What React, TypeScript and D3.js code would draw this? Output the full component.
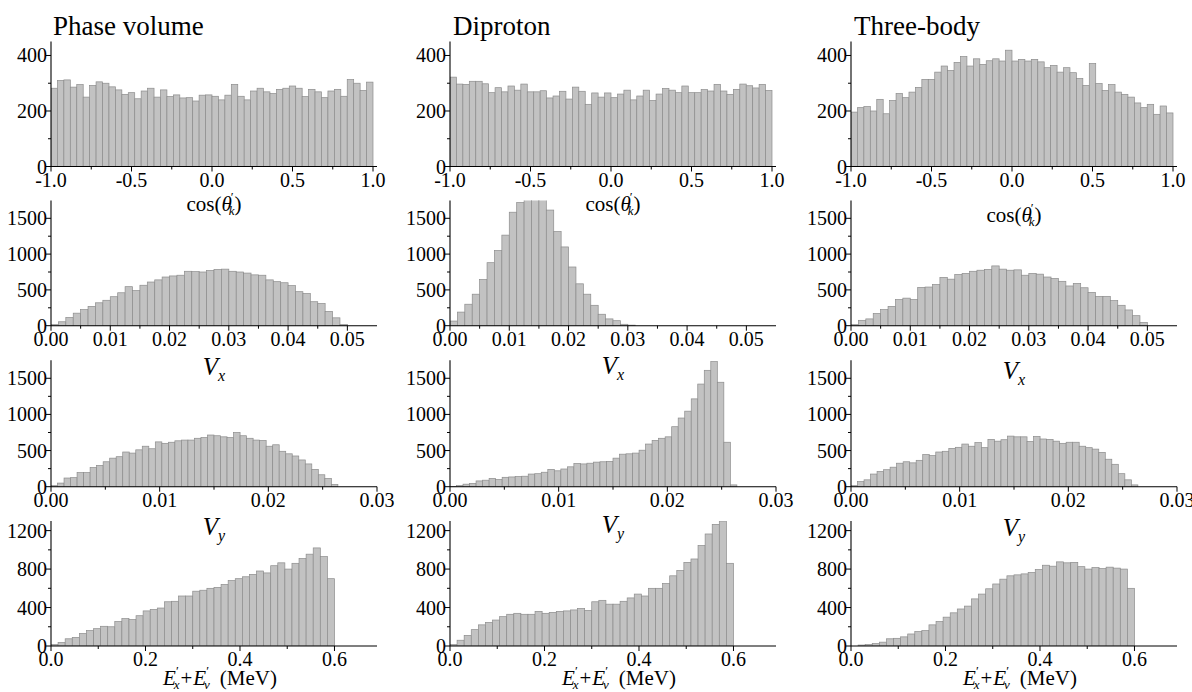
import React from 'react';
import * as d3 from 'd3';

// ---------- DATA ----------
const columnTitles = ['Phase volume', 'Diproton', 'Three-body'];

// cos(theta'_k): 50 bins, -1..1, width 0.04
const phaseCos = [282,310,312,286,295,250,292,305,300,287,276,260,266,244,272,282,250,276,252,258,247,248,236,257,258,253,240,257,296,253,240,272,282,269,263,278,282,290,282,252,278,269,248,272,278,253,313,300,274,304];
const diprotonCos = [322,297,296,307,307,298,266,284,269,290,275,297,269,269,273,247,254,271,243,286,271,224,265,250,265,248,261,275,240,254,275,238,261,281,275,266,290,266,266,277,272,296,272,260,278,297,291,283,296,274];
const threeBodyCos = [196,212,216,200,242,190,238,263,248,268,285,314,314,340,362,346,375,396,362,388,368,381,388,380,419,380,386,380,386,377,356,364,340,356,338,317,292,371,299,274,295,268,260,250,229,212,224,188,218,193];

// V_x: bins of width 0.00125 from 0
const phaseVx = [15,55,115,175,225,270,320,355,405,460,545,490,565,610,640,680,695,705,760,755,750,770,785,790,760,750,735,710,705,640,615,600,560,475,450,335,310,200,110,15];
const diprotonVx = [65,190,300,440,645,880,1050,1265,1585,1720,1800,1820,1790,1615,1315,1100,820,585,440,285,160,95,70,20,8];
const threeBodyVx = [15,75,95,170,225,270,365,385,365,535,540,575,675,650,715,730,760,775,785,835,790,775,780,705,730,720,680,660,620,555,590,530,465,410,410,350,285,220,140,45];

// V_y: bins of width 0.0006 from 0
const phaseVy = [15,50,120,125,195,195,265,295,345,395,415,480,465,510,560,525,620,600,615,635,645,645,670,680,715,705,690,680,750,705,670,645,640,560,580,490,455,425,370,315,240,165,115,30];
const diprotonVy = [5,15,35,45,80,90,115,100,130,135,140,145,175,180,200,240,220,245,275,320,315,325,340,345,350,395,450,455,465,505,590,640,670,690,830,950,1045,1215,1420,1610,1730,1445,615,25];
const threeBodyVy = [15,70,95,175,210,235,270,325,345,330,365,445,430,480,490,530,545,590,560,610,540,655,630,650,700,690,690,625,695,660,655,630,600,615,615,560,540,520,475,380,310,180,95,25];

// E'_x + E'_v: bins of width 0.015 from 0
const phaseE = [15,35,75,90,130,160,180,205,200,255,285,275,315,365,380,395,460,465,520,520,570,580,600,610,640,680,700,720,745,780,760,835,865,800,860,910,955,1020,930,700];
const diprotonE = [15,60,110,170,220,245,270,305,330,340,330,330,360,340,350,360,365,375,390,370,460,475,435,435,465,500,540,520,600,600,650,730,785,870,905,1045,1165,1265,1300,860];
const threeBodyE = [0,10,15,25,40,75,80,95,125,150,160,220,255,300,345,385,415,490,540,595,645,695,730,740,750,765,795,840,830,875,865,870,825,800,815,805,820,810,800,600];

const cosTicks = [-1, -0.5, 0, 0.5, 1];
const cosTickLabels = ['-1.0', '-0.5', '0.0', '0.5', '1.0'];
const cosMinor = [-0.75, -0.25, 0.25, 0.75];
const vxTicks = [0, 0.01, 0.02, 0.03, 0.04, 0.05];
const vxTickLabels = ['0.00', '0.01', '0.02', '0.03', '0.04', '0.05'];
const vxMinor = [0.005, 0.015, 0.025, 0.035, 0.045];
const vyTicks = [0, 0.01, 0.02, 0.03];
const vyTickLabels = ['0.00', '0.01', '0.02', '0.03'];
const vyMinor = [0.005, 0.015, 0.025];
const eTicks = [0, 0.2, 0.4, 0.6];
const eTickLabels = ['0.0', '0.2', '0.4', '0.6'];
const eMinor = [0.1, 0.3, 0.5];

const countTicksCos = [0, 200, 400];
const countMinorCos = [100, 300];
const countTicksV = [0, 500, 1000, 1500];
const countMinorV = [250, 750, 1250];
const countTicksE = [0, 400, 800, 1200];
const countMinorE = [200, 600, 1000];

// ---------- LAYOUT ----------
const FONT = "'Liberation Serif', 'Times New Roman', Times, serif";
const colX0 = [51, 450, 851];
const AXIS_LEN = 326;

type RowSpec = {
  series: number[][];
  binStart: number;
  binWidth: number;
  xDomain: [number, number];
  xRangeLen: number;
  xTicks: number[];
  xTickLabels: string[];
  xMinor: number[];
  yDomain: [number, number];
  yRange: [number, number];
  yTicks: number[];
  yMinor: number[];
  label: 'cos' | 'vx' | 'vy' | 'e';
  labelY: number[];
};

const rows: RowSpec[] = [
  {
    series: [phaseCos, diprotonCos, threeBodyCos], binStart: -1, binWidth: 0.04,
    xDomain: [-1, 1], xRangeLen: 322, xTicks: cosTicks, xTickLabels: cosTickLabels, xMinor: cosMinor,
    yDomain: [0, 450], yRange: [166.5, 41.6], yTicks: countTicksCos, yMinor: countMinorCos,
    label: 'cos', labelY: [211, 211, 222],
  },
  {
    series: [phaseVx, diprotonVx, threeBodyVx], binStart: 0, binWidth: 0.00125,
    xDomain: [0, 0.055], xRangeLen: AXIS_LEN, xTicks: vxTicks, xTickLabels: vxTickLabels, xMinor: vxMinor,
    yDomain: [0, 1750], yRange: [325.7, 200.4], yTicks: countTicksV, yMinor: countMinorV,
    label: 'vx', labelY: [375, 374, 379],
  },
  {
    series: [phaseVy, diprotonVy, threeBodyVy], binStart: 0, binWidth: 0.0006,
    xDomain: [0, 0.03], xRangeLen: AXIS_LEN, xTicks: vyTicks, xTickLabels: vyTickLabels, xMinor: vyMinor,
    yDomain: [0, 1750], yRange: [486.7, 360.2], yTicks: countTicksV, yMinor: countMinorV,
    label: 'vy', labelY: [535, 533, 536],
  },
  {
    series: [phaseE, diprotonE, threeBodyE], binStart: 0, binWidth: 0.015,
    xDomain: [0, 0.69], xRangeLen: AXIS_LEN, xTicks: eTicks, xTickLabels: eTickLabels, xMinor: eMinor,
    yDomain: [0, 1300], yRange: [646, 521], yTicks: countTicksE, yMinor: countMinorE,
    label: 'e', labelY: [685, 685, 685],
  },
];

function AxisLabel({ kind, x, y }: { kind: string; x: number; y: number }) {
  if (kind === 'cos') {
    return (
      <text x={x} y={y} textAnchor="middle" fontSize={21}>
        cos(<tspan fontStyle="italic">θ</tspan>
        <tspan fontSize={13} dy={-10} dx={-1}>′</tspan>
        <tspan fontSize={13} fontStyle="italic" dx={-5} dy={14}>k</tspan>
        <tspan dy={-4}>)</tspan>
      </text>
    );
  }
  if (kind === 'vx' || kind === 'vy') {
    return (
      <text x={x} y={y} textAnchor="middle" fontSize={25}>
        <tspan fontStyle="italic">V</tspan>
        <tspan fontSize={16} fontStyle="italic" dy={6}>{kind === 'vx' ? 'x' : 'y'}</tspan>
      </text>
    );
  }
  return (
    <text x={x + 6} y={y} textAnchor="middle" fontSize={21}>
      <tspan fontStyle="italic">E</tspan>
      <tspan fontSize={13} dy={-10} dx={0}>′</tspan>
      <tspan fontSize={13} fontStyle="italic" dx={-5} dy={14}>x</tspan>
      <tspan dy={-4} dx={1}>+</tspan>
      <tspan fontStyle="italic" dx={1}>E</tspan>
      <tspan fontSize={13} dy={-10}>′</tspan>
      <tspan fontSize={13} fontStyle="italic" dx={-5} dy={14}>v</tspan>
      <tspan dy={-4} dx={10}>(MeV)</tspan>
    </text>
  );
}

function Panel({ row, col, ri }: { row: RowSpec; col: number; ri: number }) {
  const x0 = colX0[col];
  const x = d3.scaleLinear().domain(row.xDomain).range([x0, x0 + row.xRangeLen]);
  const y = d3.scaleLinear().domain(row.yDomain).range(row.yRange);
  const values = row.series[col];
  const y0 = y(0);
  const yTop = y(row.yDomain[1]);
  const clipId = `clip-${ri}-${col}`;
  const cx = x0 + AXIS_LEN / 2;
  return (
    <g>
      <defs>
        <clipPath id={clipId}>
          <rect x={x0} y={yTop} width={AXIS_LEN} height={y0 - yTop} />
        </clipPath>
      </defs>
      <g clipPath={`url(#${clipId})`}>
        {values.map((v, i) => {
          if (v <= 0) return null;
          const a = row.binStart + i * row.binWidth;
          const b = a + row.binWidth;
          const xa = x(a);
          const xb = x(b);
          const yt = y(v);
          return (
            <rect key={i} x={xa} y={yt} width={xb - xa} height={y0 - yt}
              fill="#c2c2c2" stroke="#8c8c8c" strokeWidth={0.7} />
          );
        })}
      </g>
      <line x1={x0} x2={x0 + AXIS_LEN} y1={y0} y2={y0} stroke="#000" strokeWidth={1.1} />
      <line x1={x0} x2={x0} y1={y0} y2={yTop} stroke="#000" strokeWidth={1.1} />
      {row.yTicks.map((t) => (
        <g key={'yt' + t}>
          <line x1={x0 - 5} x2={x0} y1={y(t)} y2={y(t)} stroke="#000" strokeWidth={1} />
          <text x={x0 - 4} y={y(t) + 7} textAnchor="end" fontSize={20}>{t}</text>
        </g>
      ))}
      {row.yMinor.map((t) => (
        <line key={'ym' + t} x1={x0 - 3} x2={x0} y1={y(t)} y2={y(t)} stroke="#000" strokeWidth={1} />
      ))}
      {row.xTicks.map((t, i) => (
        <g key={'xt' + t}>
          <line x1={x(t)} x2={x(t)} y1={y0} y2={y0 + 5} stroke="#000" strokeWidth={1} />
          <text x={x(t)} y={y0 + 20} textAnchor="middle" fontSize={20}>{row.xTickLabels[i]}</text>
        </g>
      ))}
      {row.xMinor.map((t) => (
        <line key={'xm' + t} x1={x(t)} x2={x(t)} y1={y0} y2={y0 + 3} stroke="#000" strokeWidth={1} />
      ))}
      <AxisLabel kind={row.label} x={cx} y={row.labelY[col]} />
    </g>
  );
}

const titleX = [53, 453, 854];

export default function App() {
  return (
    <svg width={1192} height={692} viewBox="0 0 1192 692"
      style={{ position: 'absolute', left: 0, top: 0, background: '#fff', fontFamily: FONT }}>
      <rect x={0} y={0} width={1192} height={692} fill="#fff" />
      {columnTitles.map((t, i) => (
        <text key={t} x={titleX[i]} y={35} fontSize={27}>{t}</text>
      ))}
      {rows.map((row, ri) =>
        [0, 1, 2].map((col) => <Panel key={`${ri}-${col}`} row={row} col={col} ri={ri} />)
      )}
    </svg>
  );
}
